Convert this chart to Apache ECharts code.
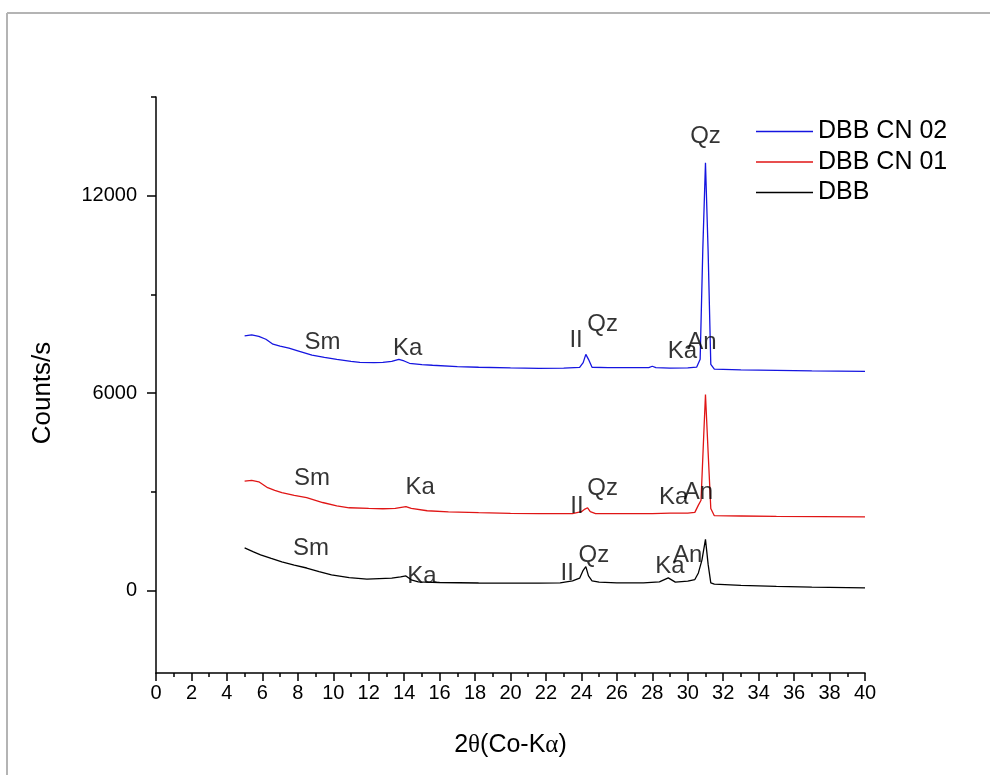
<!DOCTYPE html>
<html>
<head>
<meta charset="utf-8">
<script src="https://cdn.jsdelivr.net/npm/echarts@6/dist/echarts.min.js"></script>
<style>html,body{margin:0;padding:0;background:#fff}#c{width:990px;height:775px}</style>
</head>
<body>
<div id="c"></div>
<script>
// ---- data ----
const seriesNames = ['DBB CN 02', 'DBB CN 01', 'DBB'];
const xTicksMajor = [0, 2, 4, 6, 8, 10, 12, 14, 16, 18, 20, 22, 24, 26, 28, 30, 32, 34, 36, 38, 40];
const yTickLabels = [0, 6000, 12000];
const yMinorTicks = [3000, 9000, 15000];

const cn02 = [[5.0,7740],[5.4,7770],[5.8,7730],[6.2,7640],[6.6,7490],[7.0,7430],[7.5,7370],[8.0,7290],[8.8,7160],[9.5,7090],[10.2,7030],[11.0,6970],[11.5,6940],[12.3,6930],[12.8,6940],[13.3,6970],[13.7,7030],[14.0,6980],[14.3,6910],[15.0,6870],[15.6,6850],[17.0,6810],[18.2,6790],[20.0,6770],[21.6,6755],[23.0,6760],[23.9,6785],[24.1,6930],[24.25,7180],[24.4,7030],[24.6,6790],[25.5,6780],[27.0,6775],[27.8,6780],[28.0,6820],[28.2,6780],[29.0,6760],[30.0,6770],[30.5,6790],[30.7,7030],[30.85,10380],[31.0,13000],[31.15,10300],[31.3,6880],[31.5,6730],[33.0,6710],[35.0,6695],[37.0,6680],[40.0,6665]];

const cn01 = [[5.0,3330],[5.4,3350],[5.8,3310],[6.3,3130],[6.7,3050],[7.1,2980],[7.8,2900],[8.5,2825],[9.4,2680],[10.2,2580],[10.9,2520],[12.0,2500],[12.8,2490],[13.5,2500],[14.1,2555],[14.4,2500],[15.3,2430],[16.5,2395],[18.2,2370],[20.0,2350],[21.6,2340],[23.5,2340],[24.0,2400],[24.2,2480],[24.35,2520],[24.5,2400],[24.8,2345],[26.0,2340],[28.0,2340],[29.0,2360],[30.0,2360],[30.4,2380],[30.6,2600],[30.75,2750],[30.9,4700],[31.0,5960],[31.15,4200],[31.3,2500],[31.5,2280],[33.0,2270],[35.0,2260],[40.0,2245]];

const dbb = [[5.0,1300],[5.5,1180],[5.9,1090],[6.5,980],[7.1,875],[7.8,780],[8.5,690],[9.2,580],[9.9,480],[10.9,400],[11.9,355],[12.6,370],[13.3,385],[13.8,420],[14.1,450],[14.4,330],[14.8,270],[16.0,250],[18.2,235],[20.0,230],[21.6,228],[22.8,240],[23.5,300],[23.9,380],[24.1,620],[24.25,730],[24.4,450],[24.6,300],[25.0,260],[26.0,240],[27.5,240],[28.4,270],[28.9,390],[29.3,260],[30.0,290],[30.4,340],[30.6,540],[30.8,930],[31.0,1560],[31.15,800],[31.3,240],[31.5,200],[33.0,160],[35.0,130],[37.0,110],[40.0,85]];

// peak annotations: [2theta, counts, text]
const peakLabels = [
  [9.4,7560,'Sm'],[14.2,7350,'Ka'],[23.7,7600,'II'],[25.2,8090,'Qz'],[29.7,7270,'Ka'],[30.8,7560,'An'],[31.0,13790,'Qz'],
  [8.8,3400,'Sm'],[14.9,3130,'Ka'],[23.75,2550,'II'],[25.2,3110,'Qz'],[29.2,2850,'Ka'],[30.6,2980,'An'],
  [8.75,1300,'Sm'],[15.0,440,'Ka'],[23.2,540,'II'],[24.7,1060,'Qz'],[29.0,750,'Ka'],[30.0,1060,'An']
];

const colors = ['#1515e0', '#e01515', '#000000'];
const FONT = 'Liberation Sans, Arial, sans-serif';

const chart = echarts.init(document.getElementById('c'));
chart.setOption({
  animation: false,
  backgroundColor: '#fff',
  graphic: [
    { type: 'line', shape: { x1: 7, y1: 13, x2: 990, y2: 13 }, style: { stroke: '#b4b4b4', lineWidth: 2 } },
    { type: 'line', shape: { x1: 7, y1: 13, x2: 7, y2: 775 }, style: { stroke: '#b4b4b4', lineWidth: 2 } }
  ],
  grid: { left: 156, right: 125, top: 97, bottom: 102, containLabel: false },
  legend: {
    data: seriesNames,
    orient: 'vertical',
    left: 751,
    top: 114,
    icon: 'rect',
    itemWidth: 57,
    itemHeight: 1.5,
    itemGap: 5.5,
    textStyle: { fontSize: 25, fontFamily: FONT, color: '#000', lineHeight: 24.5, padding: 0 }
  },
  xAxis: {
    type: 'value',
    min: 0, max: 40, interval: 2,
    name: '2{g|θ}(Co-K{g|α})',
    nameLocation: 'middle',
    nameGap: 60,
    nameTextStyle: { fontSize: 25, fontFamily: FONT, color: '#000', rich: { g: { fontSize: 25, fontFamily: 'Liberation Serif, serif', color: '#000' } } },
    axisLine: { show: true, onZero: false, lineStyle: { color: '#000', width: 1.5 } },
    axisTick: { show: true, inside: false, length: 8, lineStyle: { color: '#000', width: 1.5 } },
    minorTick: { show: true, splitNumber: 2, length: 4, lineStyle: { color: '#000', width: 1.5 } },
    axisLabel: { fontSize: 20, fontFamily: FONT, color: '#000', margin: 10, customValues: xTicksMajor },
    splitLine: { show: false }
  },
  yAxis: [{
    type: 'value',
    min: -2500, max: 15000,
    name: 'Counts/s',
    nameLocation: 'middle',
    nameGap: 100,
    nameRotate: 90,
    nameTextStyle: { fontSize: 26, fontFamily: FONT, color: '#000', padding: [0, 16, 0, 0] },
    axisLine: { show: true, onZero: false, lineStyle: { color: '#000', width: 1.5 } },
    axisTick: { show: true, inside: false, length: 9, customValues: yTickLabels, lineStyle: { color: '#000', width: 1.5 } },
    axisLabel: { fontSize: 20, fontFamily: FONT, color: '#000', margin: 19, customValues: yTickLabels, formatter: v => String(v) },
    splitLine: { show: false }
  }, {
    type: 'value',
    min: -2500, max: 15000,
    position: 'left',
    axisLine: { show: false },
    axisTick: { show: true, inside: false, length: 5, customValues: yMinorTicks, lineStyle: { color: '#000', width: 1.5 } },
    axisLabel: { show: false },
    splitLine: { show: false }
  }],
  series: [
    { name: seriesNames[0], type: 'line', data: cn02, symbol: 'none', color: colors[0], lineStyle: { width: 1.3, color: colors[0] }, z: 3 },
    { name: seriesNames[1], type: 'line', data: cn01, symbol: 'none', color: colors[1], lineStyle: { width: 1.3, color: colors[1] }, z: 3 },
    { name: seriesNames[2], type: 'line', data: dbb, symbol: 'none', color: colors[2], lineStyle: { width: 1.3, color: colors[2] }, z: 3 },
    {
      name: 'labels', type: 'scatter', data: peakLabels, symbolSize: 0, silent: true, z: 5,
      encode: { x: 0, y: 1 },
      label: {
        show: true, position: 'inside', fontSize: 24, fontFamily: FONT, color: '#000',
        formatter: p => p.data[2]
      }
    }
  ]
});
</script>
</body>
</html>
